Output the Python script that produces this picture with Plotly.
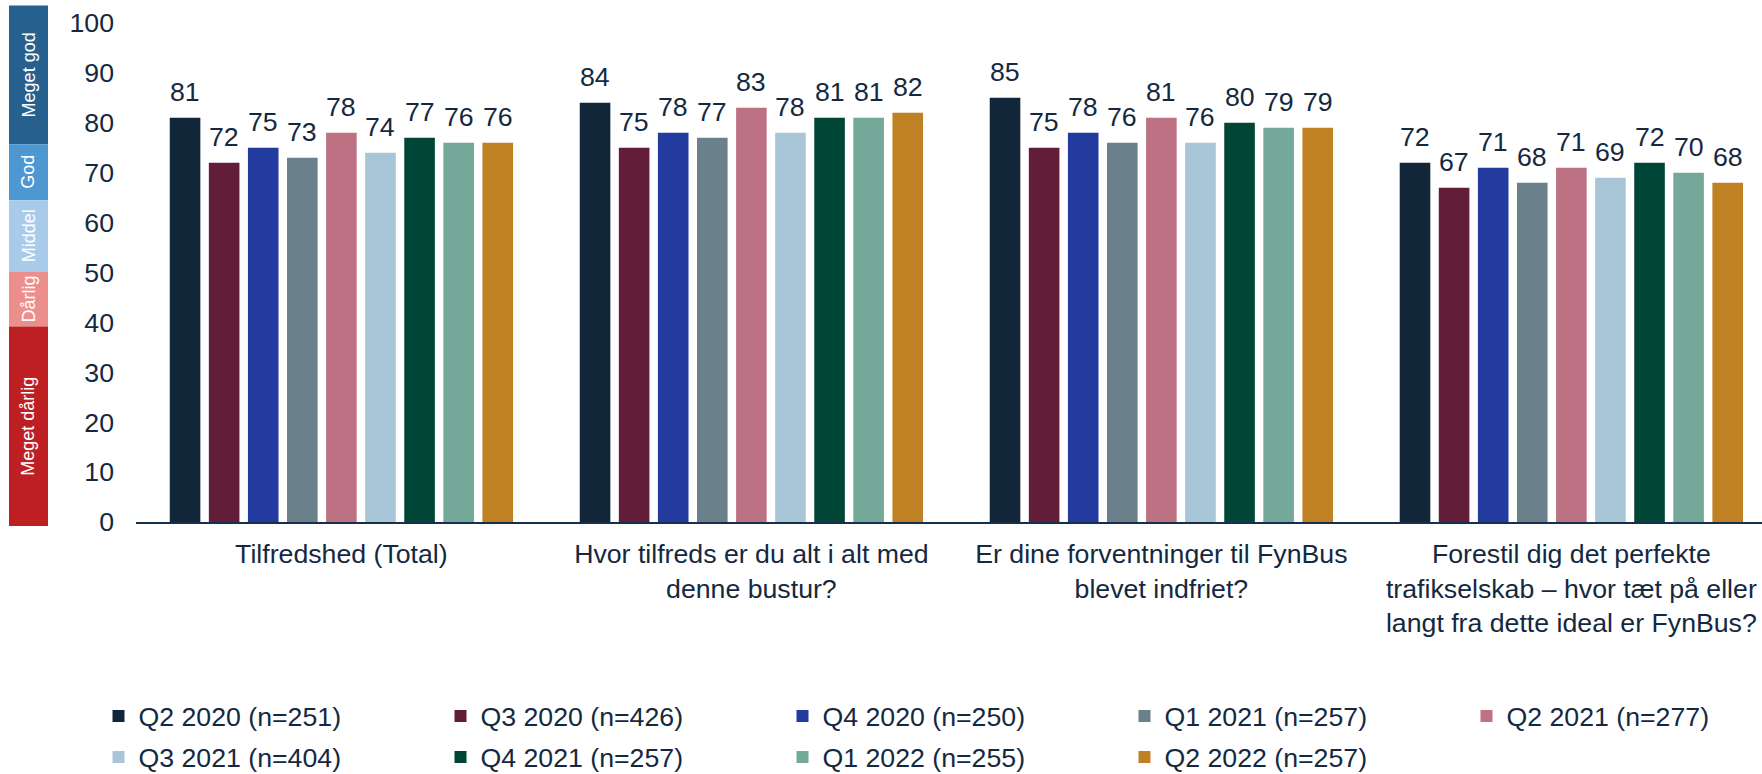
import plotly.graph_objects as go

# Survey questions (x categories)
categories = [
    "Tilfredshed (Total)",
    "Hvor tilfreds er du alt i alt med<br>denne bustur?",
    "Er dine forventninger til FynBus<br>blevet indfriet?",
    "Forestil dig det perfekte<br>trafikselskab – hvor tæt på eller<br>langt fra dette ideal er FynBus?",
]

# Survey rounds (legend entries)
rounds = [
    "Q2 2020 (n=251)", "Q3 2020 (n=426)", "Q4 2020 (n=250)", "Q1 2021 (n=257)",
    "Q2 2021 (n=277)", "Q3 2021 (n=404)", "Q4 2021 (n=257)", "Q1 2022 (n=255)",
    "Q2 2022 (n=257)",
]

# Scores per round, one value per question
q2_2020 = [81, 84, 85, 72]
q3_2020 = [72, 75, 75, 67]
q4_2020 = [75, 78, 78, 71]
q1_2021 = [73, 77, 76, 68]
q2_2021 = [78, 83, 81, 71]
q3_2021 = [74, 78, 76, 69]
q4_2021 = [77, 81, 80, 72]
q1_2022 = [76, 81, 79, 70]
q2_2022 = [76, 82, 79, 68]
scores = [q2_2020, q3_2020, q4_2020, q1_2021, q2_2021, q3_2021, q4_2021, q1_2022, q2_2022]

round_colors = [
    "#12263A", "#621D39", "#233A9F", "#6A818B", "#BC7283",
    "#A8C6D7", "#004637", "#74A99A", "#C08024",
]

# Rating scale shown as a coloured band beside the y axis
scale_labels = ["Meget god", "God", "Middel", "Dårlig", "Meget dårlig"]
scale_colors = ["#26608F", "#4E98D2", "#A9CBEA", "#EC8E8C", "#BD1F22"]
scale_edges = [103.5, 75.7, 64.5, 50.2, 39.2, -0.8]

y_ticks = list(range(0, 101, 10))

FONT = "Liberation Sans, Arial, sans-serif"
FS = 26.7
TEXT = "#14293F"
BARGAP = 0.142
GROUPGAP = 0.217

W, H = 1762, 774
M_L, M_R, M_T, M_B = 136, 0, 22.5, 251.5
plot_h = H - M_T - M_B
plot_w = W - M_L - M_R

def px_to_paper_y(ypx):
    return (H - M_B - ypx) / plot_h

def px_to_paper_x(xpx):
    return (xpx - M_L) / plot_w

fig = go.Figure()
x_pos = list(range(len(categories)))
for k, (name, vals, col) in enumerate(zip(rounds, scores, round_colors)):
    fig.add_trace(go.Bar(
        x=x_pos, y=vals, name=name,
        marker=dict(color=col, line=dict(width=0)),
        legend="legend" if k < 5 else "legend2",
        legendwidth=210 if k == 4 else 297,
        hoverinfo="y+name",
    ))

# Value labels above each bar, positioned with the grouped-bar layout
n = len(rounds)
slot = (1 - BARGAP) / n
annotations = []
for j, vals in enumerate(scores):
    for i, v in enumerate(vals):
        annotations.append(dict(
            x=i - (1 - BARGAP) / 2 + slot * (j + 0.5), y=v,
            xref="x", yref="y", text=str(v), showarrow=False,
            yanchor="middle", yshift=26,
            font=dict(family=FONT, size=FS, color=TEXT),
        ))

# Scale band: rectangles plus rotated labels
x0 = px_to_paper_x(9)
x1 = px_to_paper_x(48)
shapes = []
for k, (lab, col) in enumerate(zip(scale_labels, scale_colors)):
    top, bot = scale_edges[k], scale_edges[k + 1]
    shapes.append(dict(type="rect", xref="paper", yref="paper",
                       x0=x0, x1=x1, y0=bot / 100, y1=top / 100,
                       fillcolor=col, line=dict(width=0), layer="below"))
    annotations.append(dict(
        x=(x0 + x1) / 2, y=(top + bot) / 200, xref="paper", yref="paper",
        text=lab, showarrow=False, textangle=-90,
        xanchor="center", yanchor="middle",
        font=dict(family=FONT, size=18, color="white"),
    ))

legend_common = dict(
    orientation="h", xanchor="left", yanchor="top",
    entrywidthmode="pixels", entrywidth=297,
    font=dict(family=FONT, size=FS, color=TEXT),
    traceorder="normal", bgcolor="rgba(0,0,0,0)",
)

fig.update_layout(
    width=W, height=H,
    margin=dict(l=M_L, r=M_R, t=M_T, b=M_B, autoexpand=False),
    paper_bgcolor="white", plot_bgcolor="white",
    barmode="group", bargap=BARGAP, bargroupgap=GROUPGAP,
    font=dict(family=FONT, size=FS, color=TEXT),
    showlegend=True,
    legend=dict(x=px_to_paper_x(98.5), y=px_to_paper_y(693), **legend_common),
    legend2=dict(x=px_to_paper_x(98.5), y=px_to_paper_y(734), **legend_common),
    xaxis=dict(
        range=[-0.501, 3.465], tickvals=x_pos, ticktext=categories,
        showline=True, linecolor="#17304A", linewidth=2,
        ticks="", showgrid=False, zeroline=False,
        tickfont=dict(family=FONT, size=FS, color=TEXT),
        ticklabelstandoff=7, tickangle=0,
    ),
    yaxis=dict(
        range=[0, 100], tickvals=y_ticks, showgrid=False, zeroline=False,
        showline=False, ticks="",
        tickfont=dict(family=FONT, size=FS, color=TEXT),
        ticklabelstandoff=21,
    ),
    shapes=shapes,
    annotations=annotations,
)

fig.write_html("out.html")
